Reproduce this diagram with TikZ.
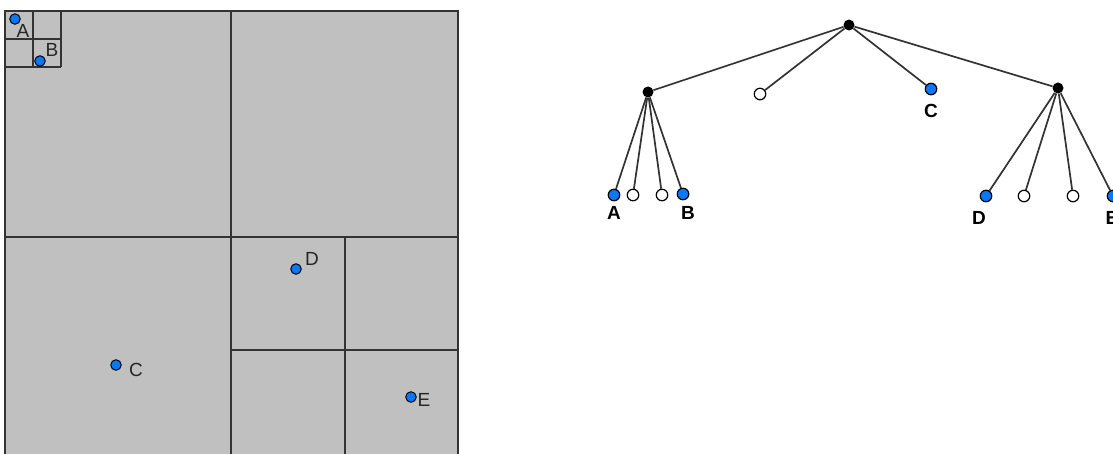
\documentclass[tikz,border=0pt]{standalone}
\usepackage{fontspec}
\setmainfont{Liberation Sans}
\definecolor{sqgray}{HTML}{C0C0C0}
\definecolor{ptblue}{HTML}{0A78F5}
\definecolor{linegray}{HTML}{333333}
\begin{document}
\begin{tikzpicture}[x=1pt,y=-1pt,
 grid/.style={draw=linegray, line width=1.6pt},
 thingrid/.style={draw=linegray, line width=1.1pt},
 pt/.style={circle, fill=ptblue, draw=black, line width=1pt, inner sep=0pt, minimum size=10.5pt},
 lbl/.style={font=\fontsize{19}{19}\selectfont, inner sep=0pt, text=black!85},
 innode/.style={circle, fill=black, inner sep=0pt, minimum size=11pt},
 leaf/.style={circle, draw=black, fill=ptblue, line width=1.2pt, inner sep=0pt, minimum size=11.5pt},
 emptyleaf/.style={circle, draw=black, fill=white, line width=1.2pt, inner sep=0pt, minimum size=11.5pt},
 tl/.style={font=\bfseries\fontsize{19}{19}\selectfont, inner sep=0pt},
 edge/.style={draw=black!80, line width=1.7pt}]
\clip (0,0) rectangle (1113,454);
% quadtree
\fill[sqgray] (5,11) rectangle (458,470);
\draw[grid] (5,11) rectangle (458,470);
\draw[grid] (231,11) -- (231,470) (5,237) -- (458,237);
\draw[grid] (345,237) -- (345,470) (231,350) -- (458,350);
\draw[thingrid] (33,11) -- (33,67) (5,39) -- (61,39) (61,11) -- (61,67) (5,67) -- (61,67);
\node[pt] (pA) at (15,19) {};
\node[lbl] (lA) at (23,31) {A};
\node[pt] (pB) at (40,61) {};
\node[lbl] (lB) at (52,50) {B};
\node[pt] (pC) at (116,365) {};
\node[lbl] (lC) at (136,370) {C};
\node[pt] (pD) at (296,269) {};
\node[lbl] (lD) at (312,259) {D};
\node[pt] (pE) at (411,397) {};
\node[lbl] (lE) at (424,400) {E};
% tree
\node[innode] (r) at (849,25) {};
\node[innode] (n1) at (648,92) {};
\node[emptyleaf] (n2) at (760,94) {};
\node[leaf] (n3) at (931,89) {};
\node[innode] (n4) at (1058,88) {};
\node[leaf] (a) at (614,195) {};
\node[emptyleaf] (a2) at (633,195) {};
\node[emptyleaf] (a3) at (662,195) {};
\node[leaf] (b) at (683,194) {};
\node[leaf] (d) at (986,196) {};
\node[emptyleaf] (d2) at (1024,196) {};
\node[emptyleaf] (d3) at (1073,196) {};
\node[leaf] (e) at (1113,196) {};
\foreach \c in {n1,n2,n3,n4} \draw[edge] (r) -- (\c);
\foreach \c in {a,a2,a3,b} \draw[edge] (n1) -- (\c);
\foreach \c in {d,d2,d3,e} \draw[edge] (n4) -- (\c);
\node[tl] (tA) at (614,213) {A};
\node[tl] (tB) at (688,213) {B};
\node[tl] (tC) at (931,111) {C};
\node[tl] (tD) at (979,218) {D};
\node[tl] (tE) at (1112,218) {E};
\end{tikzpicture}
\end{document}
